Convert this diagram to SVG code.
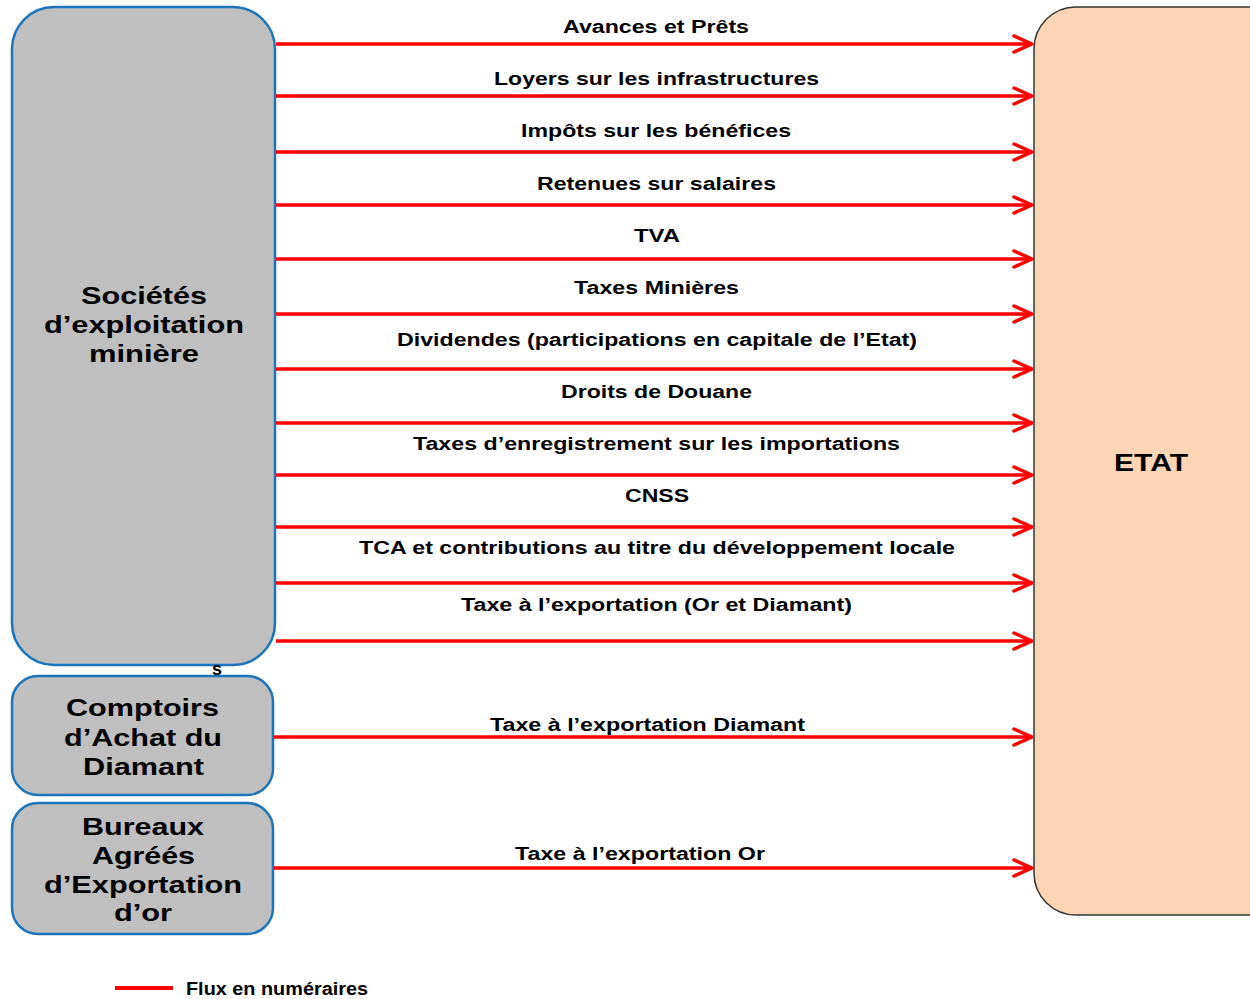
<svg xmlns="http://www.w3.org/2000/svg" width="1250" height="999" viewBox="0 0 1250 999">
<style>
.src{fill:#bfbfbf;stroke:#1a75bc;stroke-width:2.5}
.etat{fill:#fbd5b5;stroke:#333;stroke-width:1.5}
.nt{font-family:"Liberation Sans",Arial,sans-serif;font-weight:bold;font-size:24px;fill:#000;text-anchor:start}
.lb{font-family:"Liberation Sans",Arial,sans-serif;font-weight:bold;font-size:18px;fill:#000}
.flow{stroke:#ff0000;stroke-width:3.5;fill:none}
</style>
<defs>
<marker id="ah" markerUnits="userSpaceOnUse" markerWidth="24" markerHeight="22" refX="21" refY="11" orient="auto">
<path d="M3,3 L21,11 L3,19" fill="none" stroke="#ff0000" stroke-width="3.5" stroke-linecap="round" stroke-linejoin="round"/>
</marker>
</defs>
<rect width="1250" height="999" fill="#fff"/>
<g id="etat">
<rect class="etat" x="1034" y="7" width="260" height="908" rx="42" ry="42"/>
<text class="nt" x="1114" y="471" textLength="74" lengthAdjust="spacingAndGlyphs">ETAT</text>
</g>
<g id="societes">
<rect class="src" x="12" y="7" width="263" height="658" rx="42" ry="42"/>
<text class="nt" x="81" y="304" textLength="126" lengthAdjust="spacingAndGlyphs">Sociétés</text>
<text class="nt" x="44" y="333" textLength="200" lengthAdjust="spacingAndGlyphs">d’exploitation</text>
<text class="nt" x="89" y="362" textLength="110" lengthAdjust="spacingAndGlyphs">minière</text>
</g>
<text class="lb" x="212" y="675" font-size="13" textLength="10" lengthAdjust="spacingAndGlyphs">s</text>
<g id="comptoirs">
<rect class="src" x="12" y="676" width="261" height="119" rx="26" ry="26"/>
<text class="nt" x="66" y="716" textLength="153" lengthAdjust="spacingAndGlyphs">Comptoirs</text>
<text class="nt" x="64" y="746" textLength="158" lengthAdjust="spacingAndGlyphs">d’Achat du</text>
<text class="nt" x="83" y="775" textLength="121" lengthAdjust="spacingAndGlyphs">Diamant</text>
</g>
<g id="bureaux">
<rect class="src" x="12" y="803" width="261" height="131" rx="26" ry="26"/>
<text class="nt" x="82" y="835" textLength="122" lengthAdjust="spacingAndGlyphs">Bureaux</text>
<text class="nt" x="92" y="864" textLength="103" lengthAdjust="spacingAndGlyphs">Agréés</text>
<text class="nt" x="44" y="893" textLength="198" lengthAdjust="spacingAndGlyphs">d’Exportation</text>
<text class="nt" x="114" y="921" textLength="58" lengthAdjust="spacingAndGlyphs">d’or</text>
</g>
<g id="connectors">
<line class="flow" x1="276" y1="44" x2="1032" y2="44" marker-end="url(#ah)"/>
<line class="flow" x1="276" y1="96" x2="1032" y2="96" marker-end="url(#ah)"/>
<line class="flow" x1="276" y1="152" x2="1032" y2="152" marker-end="url(#ah)"/>
<line class="flow" x1="276" y1="205" x2="1032" y2="205" marker-end="url(#ah)"/>
<line class="flow" x1="276" y1="259" x2="1032" y2="259" marker-end="url(#ah)"/>
<line class="flow" x1="276" y1="314" x2="1032" y2="314" marker-end="url(#ah)"/>
<line class="flow" x1="276" y1="369" x2="1032" y2="369" marker-end="url(#ah)"/>
<line class="flow" x1="276" y1="423" x2="1032" y2="423" marker-end="url(#ah)"/>
<line class="flow" x1="276" y1="475" x2="1032" y2="475" marker-end="url(#ah)"/>
<line class="flow" x1="276" y1="527" x2="1032" y2="527" marker-end="url(#ah)"/>
<line class="flow" x1="276" y1="583" x2="1032" y2="583" marker-end="url(#ah)"/>
<line class="flow" x1="276" y1="641" x2="1032" y2="641" marker-end="url(#ah)"/>
<line class="flow" x1="274" y1="737" x2="1032" y2="737" marker-end="url(#ah)"/>
<line class="flow" x1="274" y1="868" x2="1032" y2="868" marker-end="url(#ah)"/>
<text class="lb" x="563" y="33" textLength="186" lengthAdjust="spacingAndGlyphs">Avances et Prêts</text>
<text class="lb" x="494" y="85" textLength="325" lengthAdjust="spacingAndGlyphs">Loyers sur les infrastructures</text>
<text class="lb" x="521" y="137" textLength="270" lengthAdjust="spacingAndGlyphs">Impôts sur les bénéfices</text>
<text class="lb" x="537" y="190" textLength="239" lengthAdjust="spacingAndGlyphs">Retenues sur salaires</text>
<text class="lb" x="634" y="242" textLength="46" lengthAdjust="spacingAndGlyphs">TVA</text>
<text class="lb" x="574" y="294" textLength="165" lengthAdjust="spacingAndGlyphs">Taxes Minières</text>
<text class="lb" x="397" y="346" textLength="520" lengthAdjust="spacingAndGlyphs">Dividendes (participations en capitale de l’Etat)</text>
<text class="lb" x="561" y="398" textLength="191" lengthAdjust="spacingAndGlyphs">Droits de Douane</text>
<text class="lb" x="413" y="450" textLength="487" lengthAdjust="spacingAndGlyphs">Taxes d’enregistrement sur les importations</text>
<text class="lb" x="625" y="502" textLength="64" lengthAdjust="spacingAndGlyphs">CNSS</text>
<text class="lb" x="359" y="554" textLength="596" lengthAdjust="spacingAndGlyphs">TCA et contributions au titre du développement locale</text>
<text class="lb" x="461" y="611" textLength="391" lengthAdjust="spacingAndGlyphs">Taxe à l’exportation (Or et Diamant)</text>
<text class="lb" x="490" y="731" textLength="315" lengthAdjust="spacingAndGlyphs">Taxe à l’exportation Diamant</text>
<text class="lb" x="515" y="860" textLength="250" lengthAdjust="spacingAndGlyphs">Taxe à l’exportation Or</text>
</g>
<g id="legend">
<line x1="115" y1="988" x2="173" y2="988" stroke="#ff0000" stroke-width="4"/>
<text class="lb" x="186" y="995" font-size="16" textLength="182" lengthAdjust="spacingAndGlyphs">Flux en numéraires</text>
</g>
</svg>
